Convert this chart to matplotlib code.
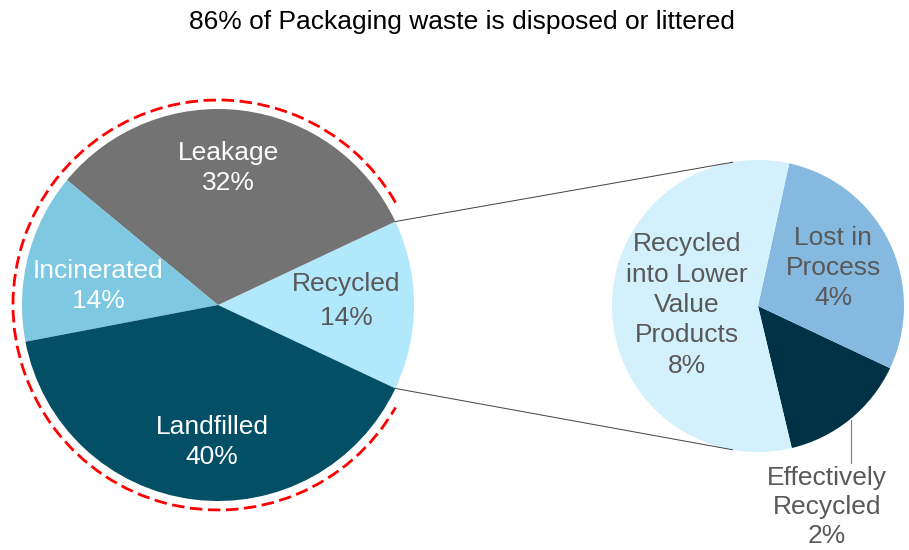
import numpy as np
import matplotlib.pyplot as plt
from matplotlib.patches import Arc

plt.rcParams['font.family'] = ['Liberation Sans', 'DejaVu Sans']

W, H = 909, 550

main_labels = ['Recycled', 'Leakage', 'Incinerated', 'Landfilled']
main_values = [14, 32, 14, 40]
main_colors = ['#B2E8FB', '#737373', '#7EC8E2', '#024F66']

sub_labels = ['Effectively\nRecycled', 'Lost in\nProcess', 'Recycled\ninto Lower\nValue\nProducts']
sub_values = [2, 4, 8]
sub_colors = ['#003246', '#85B9E0', '#D2F1FC']

title = '86% of Packaging waste is disposed or littered'


def Y(p):
    # pixel row -> data y
    return H - p


fig = plt.figure(figsize=(W / 100, H / 100), dpi=100)
ax = fig.add_axes([0, 0, 1, 1])

c1, r1 = (218, Y(305)), 196
c2, r2 = (758, Y(306)), 146

start1 = -main_values[0] * 3.6 / 2
ax.pie(main_values, colors=main_colors, startangle=start1, counterclock=True,
       center=c1, radius=r1, frame=True, wedgeprops=dict(linewidth=0))

start2 = start1 - sub_values[0] / sum(sub_values) * 360
ax.pie(sub_values, colors=sub_colors, startangle=start2, counterclock=True,
       center=c2, radius=r2, frame=True, wedgeprops=dict(linewidth=0))
ax.set_xlim(0, W)
ax.set_ylim(0, H)
ax.set_aspect('equal')
ax.axis('off')

# dashed red outline around disposed part
ax.add_patch(Arc(c1, 2 * 205, 2 * 205, theta1=30, theta2=330, color='#FF0000',
                 lw=2.0, linestyle=(0, (4.5, 2))))

# connection lines
a_top = np.radians(start1 + main_values[0] * 3.6)
a_bot = np.radians(start1)
for a1, a2 in [(a_top, np.radians(100)), (a_bot, np.radians(260))]:
    ax.plot([c1[0] + r1 * np.cos(a1), c2[0] + r2 * np.cos(a2)],
            [c1[1] + r1 * np.sin(a1), c2[1] + r2 * np.sin(a2)],
            color='#404040', lw=0.7)

fs = 19
ls = 1.33
ax.text(462, Y(22), title, ha='center', va='center', fontsize=fs, color='black')

main_pct = [f'{v}%' for v in main_values]
ax.text(346, Y(301), main_labels[0] + '\n' + main_pct[0], ha='center', va='center',
        fontsize=fs, color='#595959', linespacing=1.55)
ax.text(228, Y(168), main_labels[1] + '\n' + main_pct[1], ha='center', va='center',
        fontsize=fs, color='white', linespacing=ls)
ax.text(98, Y(286), main_labels[2] + '\n' + main_pct[2], ha='center', va='center',
        fontsize=fs, color='white', linespacing=ls)
ax.text(212, Y(442), main_labels[3] + '\n' + main_pct[3], ha='center', va='center',
        fontsize=fs, color='white', linespacing=ls)

sub_pct = [f'{v}%' for v in sub_values]
ax.text(687, Y(305), sub_labels[2] + '\n' + sub_pct[2], ha='center', va='center',
        fontsize=fs, color='#595959', linespacing=ls)
ax.text(833, Y(268), sub_labels[1] + '\n' + sub_pct[1], ha='center', va='center',
        fontsize=fs, color='#595959', linespacing=ls)
ax.text(827, Y(507), sub_labels[0] + '\n' + sub_pct[0], ha='center', va='center',
        fontsize=fs, color='#595959', linespacing=1.28)
ax.plot([851, 851], [Y(420), Y(463)], color='#7F7F7F', lw=0.8)

fig.savefig('out.png', dpi=100)
